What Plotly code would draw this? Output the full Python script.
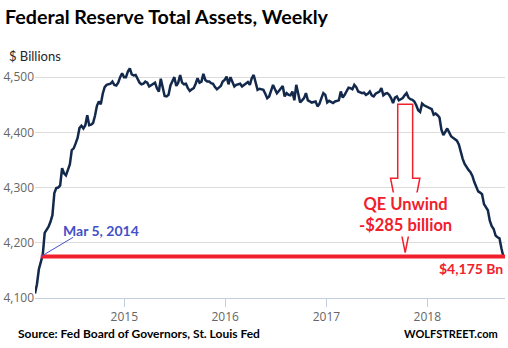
import pandas as pd
import plotly.graph_objects as go

# ---------------- data ----------------
start_date = "2014-02-12"   # weekly (Wednesdays)
assets_billions = [
    4108, 4125, 4152, 4168, 4178, 4218, 4224, 4229, 4238, 4250,
    4290, 4299, 4300, 4304, 4335, 4326, 4322, 4334, 4342, 4368,
    4371, 4380, 4390, 4408, 4412, 4407, 4413, 4431, 4413, 4414,
    4417, 4430, 4448, 4456, 4451, 4470, 4482, 4486, 4487, 4488,
    4492, 4486, 4485, 4490, 4500, 4507, 4500, 4500, 4510, 4516,
    4505, 4503, 4504, 4496, 4490,
    4487, 4488, 4492, 4490, 4483,
    4485, 4488, 4490, 4480, 4474, 4497, 4484, 4466, 4465, 4468,
    4485, 4492, 4500, 4484, 4490, 4504, 4490, 4487, 4488, 4480,
    4475, 4478, 4480, 4488, 4498, 4490, 4492, 4506, 4495, 4492,
    4492, 4489, 4488, 4482, 4478, 4481, 4484, 4492, 4495, 4501,
    4487, 4500, 4490, 4483, 4486, 4487, 4488, 4483, 4486, 4488,
    4491, 4486, 4498, 4504, 4490, 4477, 4479,
    4478, 4477, 4470,
    4462, 4465, 4475, 4486, 4478, 4471, 4475, 4480, 4484, 4465,
    4471, 4468, 4467, 4474, 4458, 4486, 4471, 4454, 4458, 4462,
    4471, 4458, 4456, 4454, 4455, 4456, 4447, 4452, 4462, 4471,
    4468, 4454, 4457, 4455, 4453, 4456, 4457, 4458, 4474, 4463,
    4468, 4474, 4481, 4480, 4478, 4486, 4482, 4474, 4472, 4471,
    4472, 4468, 4470, 4474, 4467, 4465, 4470, 4472, 4474,
    4480,
    4467, 4470, 4471, 4468, 4462, 4453, 4463, 4465, 4458, 4460,
    4462, 4467, 4471, 4463, 4460, 4459, 4456, 4449, 4440, 4437,
    4452, 4449, 4447, 4446, 4444, 4442, 4432, 4434, 4431, 4427,
    4405, 4395, 4401, 4407, 4400, 4393, 4390, 4387, 4385, 4378,
    4362, 4352, 4343, 4336, 4332, 4328, 4321, 4310, 4302, 4293,
    4291, 4288, 4270, 4264, 4259, 4240, 4230, 4225, 4213, 4210,
    4208, 4190, 4175,
]
dates = pd.date_range(start_date, periods=len(assets_billions), freq="7D")

ref_date = "2014-03-05"
ref_level = 4175
qe_peak_level = 4451
qe_arrow_date = "2017-10-13"
y_ticks = [4100, 4200, 4300, 4400, 4500]
x_range = ["2014-02-12", "2018-10-09"]
y_range = [4100, 4522]

RED = "#f0202c"
BLUE = "#4450c8"
NAVY = "#13294b"

W, H = 508, 348
ML, MR, MT, MB = 35, 3, 65, 50
PW, PH = W - ML - MR, H - MT - MB


def px(xp):
    return (xp - ML) / PW


def py(yp):
    return (H - MB - yp) / PH


fig = go.Figure()
fig.add_trace(go.Scatter(x=dates, y=assets_billions, mode="lines",
                         line=dict(color=NAVY, width=2.5), hoverinfo="skip"))

# red reference level line
fig.add_shape(type="line", xref="x", yref="y", x0=ref_date, x1=x_range[1],
              y0=ref_level, y1=ref_level, line=dict(color=RED, width=4))
# blue pointer line
fig.add_shape(type="line", xref="x", yref="y", x0=ref_date, y0=ref_level,
              x1="2014-06-30", y1=4210, line=dict(color=BLUE, width=1))


# hollow arrow (QE unwind)
def ms(d, off_days=0):
    return (pd.Timestamp(d) + pd.Timedelta(days=off_days)).value / 1e6


c = qe_arrow_date
wing_y = 4317
tip_y = 4182
pts = [
    (ms(c, -27), qe_peak_level), (ms(c, 27), qe_peak_level),
    (ms(c, 27), wing_y), (ms(c, 53), wing_y),
    (ms(c, 0), tip_y),
    (ms(c, -53), wing_y), (ms(c, -27), wing_y),
]
path = "M " + " L ".join(f"{x},{y}" for x, y in pts) + " Z"
fig.add_shape(type="path", xref="x", yref="y", path=path,
              line=dict(color=RED, width=1.5), fillcolor="rgba(0,0,0,0)")

TF = "Lato"
fig.add_annotation(x=qe_arrow_date, y=4251, xref="x", yref="y",
                   text="<b>QE Unwind<br>-$285 billion</b>", showarrow=False,
                   font=dict(family=TF, size=16.5, color=RED),
                   bgcolor="white", xanchor="center", yanchor="middle")
fig.add_annotation(x="2014-05-18", y=4223, xref="x", yref="y",
                   text="<b>Mar 5, 2014</b>", showarrow=False,
                   font=dict(family=TF, size=14, color=BLUE),
                   xanchor="left", yanchor="middle")
fig.add_annotation(x=1.0, y=4154, xref="paper", yref="y",
                   text="<b>$4,175 Bn</b>", showarrow=False,
                   font=dict(family=TF, size=14, color=RED),
                   xanchor="right", yanchor="middle")

fig.add_annotation(x=px(7), y=py(56), xref="paper", yref="paper",
                   text="$ Billions", showarrow=False,
                   font=dict(family=TF, size=13, color="#262626"),
                   xanchor="left", yanchor="middle")
fig.add_annotation(x=px(16), y=py(333), xref="paper", yref="paper",
                   text="<b>Source: Fed Board of Governors, St. Louis Fed</b>",
                   showarrow=False, font=dict(family=TF, size=12, color="black"),
                   xanchor="left", yanchor="middle")
fig.add_annotation(x=px(402), y=py(333), xref="paper", yref="paper",
                   text="<b>WOLFSTREET.com</b>", showarrow=False,
                   font=dict(family=TF, size=11, color="black"),
                   xanchor="left", yanchor="middle")

fig.update_layout(
    width=W, height=H,
    margin=dict(l=ML, r=MR, t=MT, b=MB),
    paper_bgcolor="white", plot_bgcolor="white",
    showlegend=False,
    title=dict(text="<b>Federal Reserve Total Assets, Weekly</b>",
               x=5/W, xref="container", xanchor="left",
               y=1-17/H, yref="container", yanchor="middle",
               font=dict(family=TF, size=19.7, color="black")),
    xaxis=dict(range=x_range, type="date", showgrid=False,
               tick0="2015-01-01", dtick="M12", tickformat="%Y",
               ticks="outside", ticklen=8, tickcolor="#c3cfdf",
               showline=True, linecolor="#c3cfdf", linewidth=1,
               tickfont=dict(family="Open Sans", size=12, color="#666666")),
    yaxis=dict(range=y_range, tickvals=y_ticks, tickformat=",d",
               showgrid=True, gridcolor="#dcdcdc", gridwidth=1,
               zeroline=False, showline=False, ticks="",
               tickfont=dict(family="Open Sans", size=12, color="#666666")),
)

fig.write_html("out.html")
